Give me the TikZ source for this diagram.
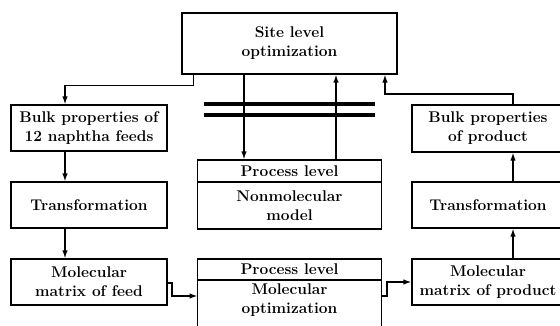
\documentclass[tikz,border=0pt]{standalone}
\usetikzlibrary{arrows.meta}
\begin{document}
\begin{tikzpicture}[x=1pt,y=-1pt,
  lbl/.style={font=\fontsize{15.5}{19}\selectfont\bfseries},
  box/.style={draw,line width=1.3pt,align=center,inner sep=0pt,lbl},
  arr/.style={line width=1.3pt,-{Latex[length=8pt,width=5.5pt]}},
  bar/.style={line width=4pt}]
\useasboundingbox (0,0) rectangle (560,325);
\clip (0,0) rectangle (560,325);
% nodes
\node[box,minimum width=215pt,minimum height=61pt] (site) at (289.5,43.5) {Site level\\optimization};
\node[box,minimum width=156pt,minimum height=46pt] (feeds) at (89,128) {Bulk properties of\\12 naphtha feeds};
\node[box,minimum width=156pt,minimum height=46pt] (trL) at (89,205) {Transformation};
\node[box,minimum width=156pt,minimum height=46pt] (molF) at (89,282) {Molecular\\matrix of feed};
\node[box,minimum width=152pt,minimum height=47pt] (bulkP) at (488,128.5) {Bulk properties\\of product};
\node[box,minimum width=152pt,minimum height=46pt] (trR) at (488,205) {Transformation};
\node[box,minimum width=152pt,minimum height=46pt] (molP) at (488,282) {Molecular\\matrix of product};
\node[box,minimum width=184pt,minimum height=22pt] (p1top) at (289.5,171) {Process level};
\node[box,minimum width=184pt,minimum height=47pt,anchor=north,outer sep=0pt] (p1bot) at ([yshift=0.65pt]p1top.south) {Nonmolecular\\model};
\node[box,minimum width=184pt,minimum height=21pt] (p2top) at (289.5,269.5) {Process level};
\node[box,minimum width=184pt,minimum height=60pt,anchor=north,outer sep=0pt] (p2bot) at ([yshift=0.65pt]p2top.south) {};
\node[align=center,inner sep=0pt,lbl] (p2txt) at (289.5,300) {Molecular\\optimization};
% bars
\draw[bar] (204,104) -- (375,104);
\draw[bar] (204,115) -- (375,115);
% connectors
\draw[arr] ([xshift=12pt]site.south west) -- ++(0,11) -| ([xshift=-24pt]feeds.north);
\draw[arr] (site.south -| 244,0) -- (p1top.north -| 244,0);
\draw[arr] (p1top.north -| 336,0) -- (site.south -| 336,0);
\draw[arr] (bulkP.north -| 513,0) |- (385,94) -- (site.south -| 385,0);
\draw[arr] ([xshift=-24pt]feeds.south) -- ([xshift=-24pt]trL.north);
\draw[arr] ([xshift=-24pt]trL.south) -- ([xshift=-24pt]molF.north);
\draw[arr] (molP.north -| 513,0) -- (trR.south -| 513,0);
\draw[arr] (trR.north -| 513,0) -- (bulkP.south -| 513,0);
\draw[arr] (molF.east |- 0,283) -- (172,283) |- (p2bot.west |- 0,296);
\draw[arr] (p2bot.east |- 0,296) -- (387,296) |- (molP.west);
\end{tikzpicture}
\end{document}
